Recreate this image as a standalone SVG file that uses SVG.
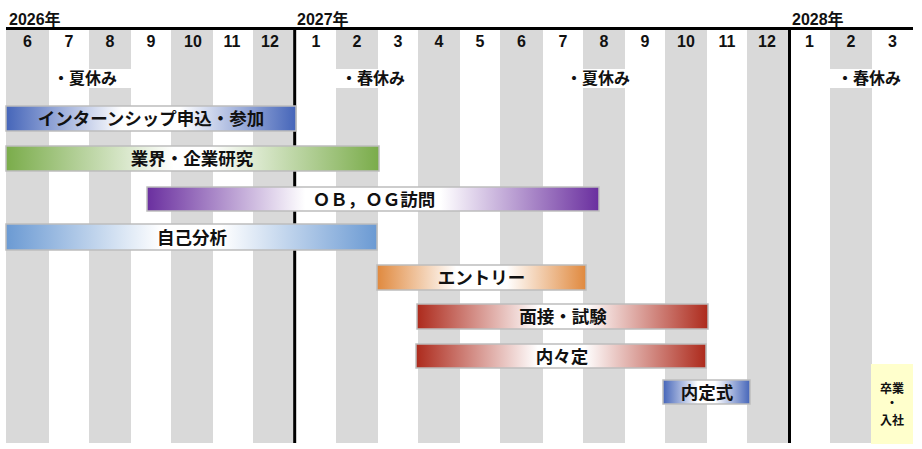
<svg xmlns="http://www.w3.org/2000/svg" width="922" height="449" viewBox="0 0 922 449">
<style>
text{font-family:"Liberation Sans","Noto Sans CJK JP",sans-serif;font-weight:bold;fill:#111}
.yr{font-size:16px}
.mo{font-size:16px;text-anchor:middle}
.hol{font-size:16px}
.bl{font-size:17.5px;text-anchor:middle}
.sm{font-size:12px;text-anchor:middle}
.bar{stroke:#bdbdbd;stroke-width:1.5}
.st{fill:#d9d9d9}
</style>
<defs>
<linearGradient id="gBlue"><stop offset="0" stop-color="#4565b9"/><stop offset="0.4" stop-color="#fff"/><stop offset="0.6" stop-color="#fff"/><stop offset="1" stop-color="#4565b9"/></linearGradient>
<linearGradient id="gGreen"><stop offset="0" stop-color="#7aac4a"/><stop offset="0.45" stop-color="#fff"/><stop offset="0.55" stop-color="#fff"/><stop offset="1" stop-color="#7aac4a"/></linearGradient>
<linearGradient id="gPurple"><stop offset="0" stop-color="#6a2f9f"/><stop offset="0.35" stop-color="#fff"/><stop offset="0.65" stop-color="#fff"/><stop offset="1" stop-color="#6a2f9f"/></linearGradient>
<linearGradient id="gLight"><stop offset="0" stop-color="#6b9ad3"/><stop offset="0.42" stop-color="#fff"/><stop offset="0.58" stop-color="#fff"/><stop offset="1" stop-color="#6b9ad3"/></linearGradient>
<linearGradient id="gOrange"><stop offset="0" stop-color="#e0893e"/><stop offset="0.38" stop-color="#fff"/><stop offset="0.62" stop-color="#fff"/><stop offset="1" stop-color="#e0893e"/></linearGradient>
<linearGradient id="gRed"><stop offset="0" stop-color="#ad2a1c"/><stop offset="0.42" stop-color="#fff"/><stop offset="0.58" stop-color="#fff"/><stop offset="1" stop-color="#ad2a1c"/></linearGradient>
</defs>
<rect width="922" height="449" fill="#fff"/>
<g id="stripes">
<rect class="st" x="6" y="30" width="43" height="413"/>
<rect class="st" x="89" y="30" width="42" height="413"/>
<rect class="st" x="171" y="30" width="42" height="413"/>
<rect class="st" x="253" y="30" width="41" height="413"/>
<rect class="st" x="336" y="30" width="42" height="413"/>
<rect class="st" x="418" y="30" width="42" height="413"/>
<rect class="st" x="500" y="30" width="43" height="413"/>
<rect class="st" x="583" y="30" width="42" height="413"/>
<rect class="st" x="665" y="30" width="42" height="413"/>
<rect class="st" x="747" y="30" width="41" height="413"/>
<rect class="st" x="830" y="30" width="42" height="413"/>
</g>
<g id="header">
<text class="yr" x="9" y="25">2026年</text>
<text class="yr" x="297" y="25">2027年</text>
<text class="yr" x="792" y="25">2028年</text>
<line x1="6" y1="28.5" x2="913" y2="28.5" stroke="#000" stroke-width="3"/>
<text class="mo" x="27.5" y="47">6</text>
<text class="mo" x="69" y="47">7</text>
<text class="mo" x="110" y="47">8</text>
<text class="mo" x="151" y="47">9</text>
<text class="mo" x="193" y="47">10</text>
<text class="mo" x="232" y="47">11</text>
<text class="mo" x="270" y="47">12</text>
<text class="mo" x="316" y="47">1</text>
<text class="mo" x="357" y="47">2</text>
<text class="mo" x="398" y="47">3</text>
<text class="mo" x="439" y="47">4</text>
<text class="mo" x="480" y="47">5</text>
<text class="mo" x="521.5" y="47">6</text>
<text class="mo" x="563" y="47">7</text>
<text class="mo" x="604" y="47">8</text>
<text class="mo" x="645" y="47">9</text>
<text class="mo" x="686" y="47">10</text>
<text class="mo" x="727" y="47">11</text>
<text class="mo" x="767" y="47">12</text>
<text class="mo" x="809.5" y="47">1</text>
<text class="mo" x="851" y="47">2</text>
<text class="mo" x="892.5" y="47">3</text>
</g>
<g id="dividers">
<line x1="294.7" y1="28.5" x2="294.7" y2="443" stroke="#000" stroke-width="3"/>
<line x1="789.5" y1="28.5" x2="789.5" y2="443" stroke="#000" stroke-width="3"/>
</g>
<g id="holidays">
<rect x="52" y="69" width="79" height="19" fill="#fff"/>
<text class="hol" x="53" y="84">・夏休み</text>
<rect x="336" y="69" width="76" height="19" fill="#fff"/>
<text class="hol" x="341" y="84">・春休み</text>
<rect x="566" y="69" width="69" height="19" fill="#fff"/>
<text class="hol" x="566" y="84">・夏休み</text>
<rect x="830" y="69" width="76" height="19" fill="#fff"/>
<text class="hol" x="837" y="84">・春休み</text>
</g>
<g id="connectors"></g>
<g id="intern">
<rect class="bar" x="6" y="106" width="290" height="25" fill="url(#gBlue)"/>
<text class="bl" x="151" y="125">インターンシップ申込・参加</text>
</g>
<g id="research">
<rect class="bar" x="6" y="146" width="373" height="25" fill="url(#gGreen)"/>
<text class="bl" x="192" y="165">業界・企業研究</text>
</g>
<g id="obog">
<rect class="bar" x="147" y="187" width="452" height="24" fill="url(#gPurple)"/>
<text class="bl" x="374" y="205.5">ＯＢ，ＯＧ訪問</text>
</g>
<g id="self">
<rect class="bar" x="6" y="224" width="371" height="26" fill="url(#gLight)"/>
<text class="bl" x="192" y="243.5">自己分析</text>
</g>
<g id="entry">
<rect class="bar" x="377" y="265" width="209" height="25" fill="url(#gOrange)"/>
<text class="bl" x="481.5" y="284">エントリー</text>
</g>
<g id="interview">
<rect class="bar" x="417" y="304" width="291" height="25" fill="url(#gRed)"/>
<text class="bl" x="563" y="323">面接・試験</text>
</g>
<g id="naitei">
<rect class="bar" x="416" y="344" width="290" height="24" fill="url(#gRed)"/>
<text class="bl" x="562" y="362.5">内々定</text>
</g>
<g id="ceremony">
<rect class="bar" x="663" y="380" width="87" height="24" fill="url(#gBlue)"/>
<text class="bl" x="707" y="398.5">内定式</text>
</g>
<g id="graduation">
<rect x="871" y="364" width="42" height="80" fill="#ffffcc"/>
<text class="sm" x="892" y="393">卒業</text>
<text class="sm" x="892" y="408">・</text>
<text class="sm" x="892" y="425">入社</text>
</g>
</svg>
